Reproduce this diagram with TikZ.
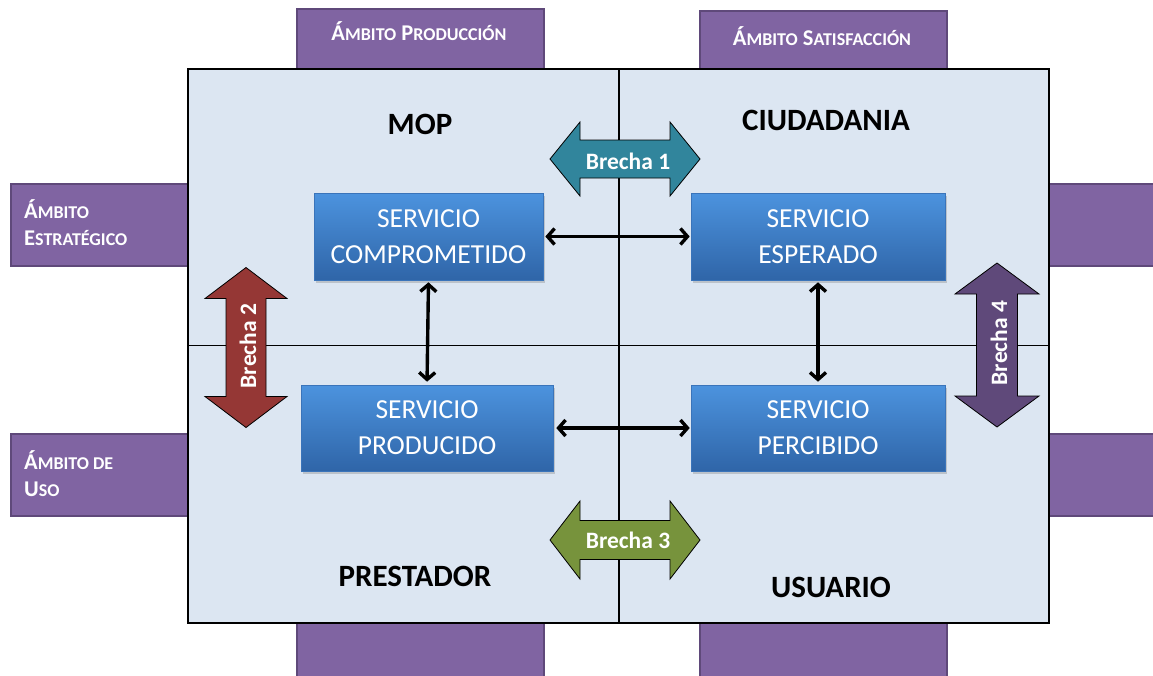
\documentclass[tikz,border=0pt]{standalone}
\usepackage{fontspec}
\setmainfont{Carlito}
\usetikzlibrary{arrows.meta,shadows}
\definecolor{bgblue}{HTML}{DCE6F2}
\definecolor{tabpurple}{HTML}{8064A2}
\definecolor{tabborder}{HTML}{5F497A}
\definecolor{boxtop}{HTML}{4C93DE}
\definecolor{boxbot}{HTML}{2F65A8}
\definecolor{boxedge}{HTML}{3A74BA}
\definecolor{brone}{HTML}{31859C}
\definecolor{brtwo}{HTML}{953735}
\definecolor{brthree}{HTML}{77933C}
\definecolor{brfour}{HTML}{5F497A}
\newcommand\fsc[2]{{\fontsize{22.5}{26}\selectfont #1}{\fontsize{18}{22}\selectfont #2}}
\tikzset{
  tabbox/.style={fill=tabpurple, draw=tabborder, line width=1.6pt, anchor=north west, inner sep=0pt},
  tabtext/.style={text=white, font=\bfseries\fontsize{22.5}{27}\selectfont, inner sep=0pt},
  svc/.style={top color=boxtop, bottom color=boxbot, draw=boxedge, line width=0.6pt,
    text=white, align=center, font=\fontsize{27.5}{36}\selectfont, inner sep=0pt,
    drop shadow={opacity=0.35, shadow xshift=2pt, shadow yshift=-2.5pt}},
  region/.style={font=\bfseries\fontsize{31}{36}\selectfont, text=black, inner sep=0pt},
  conn/.style={line width=3.4pt, {Straight Barb[length=7pt,width=16pt]}-{Straight Barb[length=7pt,width=16pt]}},
  brecha/.style={draw=black, line width=0.8pt},
  brechatext/.style={text=white, font=\bfseries\fontsize{23.5}{26}\selectfont, inner sep=0pt},
  divider/.style={line width=1.3pt, draw=black}
}
\begin{document}
\begin{tikzpicture}[x=1pt,y=-1pt]
\useasboundingbox (0,0) rectangle (1153,675);
% tabs behind the main panel
\node[tabbox, minimum width=247pt, minimum height=70pt] (tabTL) at (296,8) {};
\node[tabbox, minimum width=247pt, minimum height=68pt] (tabTR) at (699,10) {};
\node[tabbox, minimum width=190pt, minimum height=82pt] (tabL1) at (10,183) {};
\node[tabbox, minimum width=190pt, minimum height=82pt] (tabL2) at (10,433) {};
\node[tabbox, minimum width=120pt, minimum height=82pt] (tabR1) at (1040,183) {};
\node[tabbox, minimum width=120pt, minimum height=82pt] (tabR2) at (1040,433) {};
\node[tabbox, minimum width=247pt, minimum height=70pt] (tabB1) at (296,612) {};
\node[tabbox, minimum width=247pt, minimum height=70pt] (tabB2) at (699,612) {};
\node[tabtext] (tTL) at (419,31) {\fsc{Á}{MBITO} \fsc{P}{RODUCCIÓN}};
\node[tabtext] (tTR) at (822,36) {\fsc{Á}{MBITO} \fsc{S}{ATISFACCIÓN}};
% main panel
\node[draw=black, fill=bgblue, line width=1.6pt, minimum width=861pt, minimum height=554pt, anchor=north west, inner sep=0pt] (main) at (187,68) {};
\node[tabtext, align=left, anchor=base west] (tL1) at (24,245) {\fsc{Á}{MBITO}\\\fsc{E}{STRATÉGICO}};
\node[tabtext, align=left, anchor=base west] (tL2) at (24,496) {\fsc{Á}{MBITO DE}\\\fsc{U}{SO}};
\coordinate (dTop) at (619,68);
\coordinate (dBot) at (619,622);
\draw[divider] (dTop) -- (dBot);
\draw[divider] (main.west) -- (main.east);
% region labels
\node[region] (mop) at (420,124) {MOP};
\node[region] (ciu) at (826,120) {CIUDADANIA};
\node[region] (pre) at (415,576) {PRESTADOR};
\node[region] (usu) at (831,587) {USUARIO};
% service boxes
\node[svc, minimum width=229pt, minimum height=87pt] (comp) at (428.5,236.5) {SERVICIO\\COMPROMETIDO};
\node[svc, minimum width=254pt, minimum height=87pt] (esp) at (818,236.5) {SERVICIO\\ESPERADO};
\node[svc, minimum width=252pt, minimum height=86pt] (prod) at (427,428) {SERVICIO\\PRODUCIDO};
\node[svc, minimum width=254pt, minimum height=86pt] (perc) at (818,428) {SERVICIO\\PERCIBIDO};
% connectors
\draw[conn, shorten <=2pt, shorten >=1pt] (comp.east) -- (esp.west);
\draw[conn, shorten <=3pt, shorten >=1pt] (prod.east) -- (perc.west);
\draw[conn, shorten <=2pt, shorten >=3pt] (comp.south) -- (prod.north);
\draw[conn, shorten <=2pt, shorten >=3pt] (esp.south) -- (perc.north);
% gap arrows
\draw[brecha, fill=brone, shift={(625,159)}] (-75,0) -- (-45,-37) -- (-45,-19) -- (45,-19) -- (45,-37) -- (75,0) -- (45,37) -- (45,19) -- (-45,19) -- (-45,37) -- cycle;
\node[brechatext] (br1) at (628,161) {Brecha 1};
\draw[brecha, fill=brthree, shift={(625,540)}] (-75,0) -- (-45,-39) -- (-45,-19.5) -- (45,-19.5) -- (45,-39) -- (75,0) -- (45,39) -- (45,19.5) -- (-45,19.5) -- (-45,39) -- cycle;
\node[brechatext] (br3) at (628,540) {Brecha 3};
\draw[brecha, fill=brtwo, shift={(246,347.5)}] (0,-80) -- (41,-49) -- (20,-49) -- (20,49) -- (41,49) -- (0,80) -- (-41,49) -- (-20,49) -- (-20,-49) -- (-41,-49) -- cycle;
\node[brechatext, rotate=90] (br2) at (248,346) {Brecha 2};
\draw[brecha, fill=brfour, shift={(997,345)}] (0,-82) -- (42,-51) -- (20.5,-51) -- (20.5,51) -- (42,51) -- (0,82) -- (-42,51) -- (-20.5,51) -- (-20.5,-51) -- (-42,-51) -- cycle;
\node[brechatext, rotate=90] (br4) at (999,343) {Brecha 4};
\end{tikzpicture}
\end{document}
